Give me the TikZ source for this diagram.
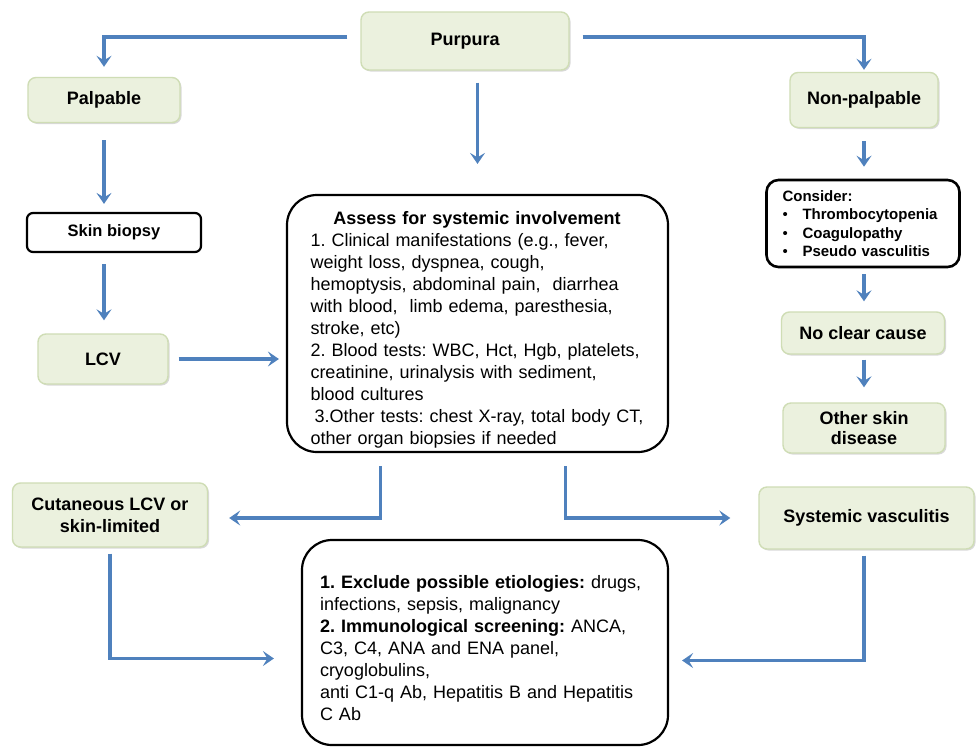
\documentclass[tikz,border=0pt]{standalone}
\usepackage{fontspec}
\setmainfont{Liberation Sans}
\usetikzlibrary{arrows.meta,shadows}
\definecolor{gfill}{HTML}{EBF1DE}
\definecolor{gdraw}{HTML}{CFDDB5}
\definecolor{arrblue}{HTML}{4F81BD}
\frenchspacing
\tikzset{
  gbox/.style={draw=gdraw, line width=1.4pt, fill=gfill, rounded corners=8pt,
    align=center, font=\fontsize{18}{22}\selectfont\bfseries, inner sep=2pt,
    drop shadow={shadow xshift=1.5pt, shadow yshift=-1.5pt, opacity=0.15, fill=black}},
  bbox/.style={draw=black, line width=2.2pt, fill=white, align=left},
  arr/.style={draw=arrblue, line width=3.2pt,
    -{Stealth[length=11pt,width=15pt,inset=4.5pt]}},
}
\begin{document}
\begin{tikzpicture}[x=1pt,y=-1pt]
\useasboundingbox[fill=white] (0,0) rectangle (976,747);

% green boxes
\node[gbox, minimum width=208, minimum height=58] (purpura) at (465,41) {Purpura};
\node[gbox, minimum width=152, minimum height=45] (palp) at (104,100) {Palpable};
\node[gbox, minimum width=148, minimum height=55] (nonpalp) at (864,100) {Non-palpable};
\node[gbox, minimum width=130, minimum height=50] (lcv) at (103,359) {LCV};
\node[gbox, minimum width=163, minimum height=42] (noclear) at (863,333) {No clear cause};
\node[gbox, minimum width=162, minimum height=50, font=\fontsize{18}{20}\selectfont\bfseries] (other) at (864,428) {Other skin\\disease};
\node[gbox, minimum width=195, minimum height=64] (cut) at (110,515) {Cutaneous LCV or\\skin-limited};
\node[gbox, minimum width=215, minimum height=62] (sys) at (866.5,518) {Systemic vasculitis};

% black-outlined boxes
\node[bbox, rounded corners=6pt, minimum width=174, minimum height=39, align=center,
  font=\fontsize{16.5}{20}\selectfont\bfseries] (skin) at (114,232.5) {Skin biopsy};

\node[bbox, rounded corners=12pt, line width=2.6pt, minimum width=193, minimum height=87,
  text width=161, inner xsep=16pt,
  font=\fontsize{15}{18.3}\selectfont\bfseries] (consider) at (863,223.5)
  {Consider:\\
   \makebox[20pt][l]{\mdseries\textbullet}Thrombocytopenia\\
   \makebox[20pt][l]{\mdseries\textbullet}Coagulopathy\\
   \makebox[20pt][l]{\mdseries\textbullet}Pseudo vasculitis};

\node[bbox, rounded corners=30pt, minimum width=381, minimum height=257,
  text width=340, inner xsep=20.5pt, inner ysep=0pt,
  font=\fontsize{18}{22}\selectfont] (assess) at (477.5,323.5)
  {\rule{0pt}{26pt}\hspace*{3pt}\makebox[333pt][c]{\bfseries Assess for systemic involvement}\\
   \hspace*{3pt}1. Clinical manifestations (e.g., fever,\\
   \hspace*{3pt}weight loss, dyspnea, cough,\\
   \hspace*{3pt}hemoptysis, abdominal pain,\ \ diarrhea\\
   \hspace*{3pt}with blood,\ \ limb edema, paresthesia,\\
   \hspace*{3pt}stroke, etc)\\
   \hspace*{3pt}2. Blood tests: WBC, Hct, Hgb, platelets,\\
   \hspace*{3pt}creatinine, urinalysis with sediment,\\
   \hspace*{3pt}blood cultures\\
   \hspace*{7pt}3.Other tests: chest X-ray, total body CT,\\
   \hspace*{3pt}other organ biopsies if needed};

\node[bbox, rounded corners=30pt, minimum width=366, minimum height=205,
  text width=330, inner xsep=18pt, inner ysep=0pt,
  font=\fontsize{18}{22}\selectfont] (bottom) at (485,642.5)
  {\rule{0pt}{24pt}\textbf{1. Exclude possible etiologies:} drugs,\\
   infections, sepsis, malignancy\\
   \textbf{2. Immunological screening:} ANCA,\\
   C3, C4, ANA and ENA panel,\\
   cryoglobulins,\\
   anti C1-q Ab, Hepatitis B and Hepatitis\\
   C Ab};

% connectors
\draw[arr, shorten >=10pt] ([xshift=-13pt,yshift=4pt]purpura.west) -| (palp.north);
\draw[arr, shorten >=2pt] ([xshift=13pt,yshift=4pt]purpura.east) -| (nonpalp.north);
\draw[arr, shorten <=12pt, shorten >=30pt] (purpura.south -| assess.north) -- (assess.north);
\draw[arr, shorten <=17pt, shorten >=8pt] (palp.south) -- (palp.south |- skin.north);
\draw[arr, shorten <=11pt, shorten >=13pt] (palp.south |- skin.south) -- (palp.south |- lcv.north);
\draw[arr, shorten <=10pt, shorten >=7pt] (lcv.east) -- (lcv.east -| assess.west);
\draw[arr, shorten <=13pt, shorten >=12pt] (nonpalp.south) -- (nonpalp.south |- consider.north);
\draw[arr, shorten <=6pt, shorten >=10pt] (consider.south -| nonpalp.south) -- (nonpalp.south |- noclear.north);
\draw[arr, shorten <=5pt, shorten >=15pt] (noclear.south -| nonpalp.south) -- (nonpalp.south |- other.north);
\draw[arr, shorten <=13pt, shorten >=21pt] ([xshift=-97pt]assess.south) |- ([yshift=-3pt]cut.east);
\draw[arr, shorten <=13pt, shorten >=28pt] ([xshift=88pt]assess.south) |- (sys.west);
\draw[arr, shorten <=6pt, shorten >=27pt] (cut.south) |- ([yshift=-16pt]bottom.west);
\draw[arr, shorten <=6pt, shorten >=13pt] ([xshift=-2.5pt]sys.south) |- ([yshift=-18pt]bottom.east);
\end{tikzpicture}
\end{document}
